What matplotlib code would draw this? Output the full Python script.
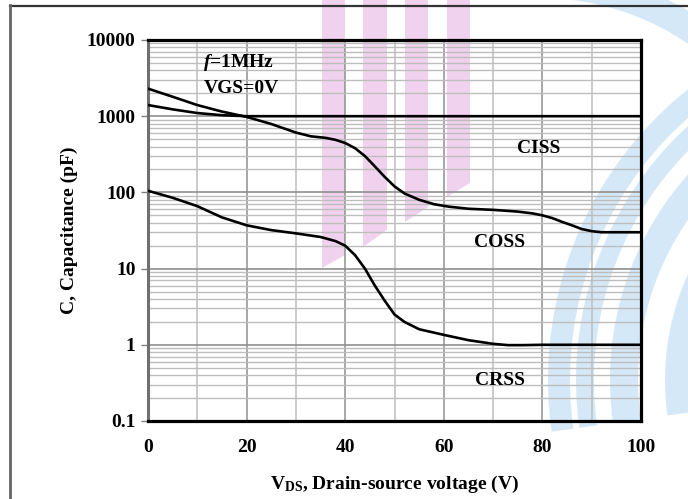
import matplotlib
matplotlib.use("Agg")
import matplotlib.pyplot as plt
from matplotlib.patches import Wedge, Polygon
from matplotlib.lines import Line2D
from matplotlib.transforms import Affine2D
from matplotlib.ticker import NullFormatter, FixedLocator

plt.rcParams['font.family'] = ['Liberation Serif', 'DejaVu Serif']
plt.rcParams['mathtext.fontset'] = 'custom'
plt.rcParams['mathtext.rm'] = 'Liberation Serif:bold'
plt.rcParams['mathtext.it'] = 'Liberation Serif:bold:italic'
plt.rcParams['mathtext.bf'] = 'Liberation Serif:bold'

# ---- data ----
ciss_v = [0, 5, 10, 15, 20, 30, 40, 50, 60, 70, 80, 90, 100]
ciss_c = [1400, 1230, 1100, 1030, 1000, 1000, 1000, 1000, 1000, 1000, 1000, 1000, 1000]

coss_v = [0, 5, 10, 15, 20, 25, 30, 33, 36, 38, 40, 42, 44, 46, 48, 50, 52, 55, 58, 61,
          65, 70, 75, 78, 80, 82, 84, 86, 88, 90, 92, 95, 100]
coss_c = [2300, 1800, 1400, 1150, 980, 790, 610, 545, 520, 490, 445, 380, 300, 220, 160,
          120, 97, 80, 70, 65, 61, 59, 56, 53, 50, 46, 41, 37, 33, 31, 30, 30, 30]

crss_v = [0, 5, 10, 15, 20, 25, 30, 35, 38, 40, 42, 44, 46, 48, 50, 52, 55, 60, 65, 70,
          73, 76, 80, 90, 100]
crss_c = [105, 85, 66, 47, 37, 32, 29, 26, 23, 20, 15, 10, 6, 3.8, 2.5, 2.0, 1.6, 1.35,
          1.15, 1.03, 0.99, 0.99, 1.0, 1.0, 1.0]

y_ticks = [0.1, 1, 10, 100, 1000, 10000]
y_tick_labels = ["0.1", "1", "10", "100", "1000", "10000"]
x_ticks = [0, 20, 40, 60, 80, 100]
x_tick_labels = ["0", "20", "40", "60", "80", "100"]

W, H = 688, 499
fig = plt.figure(figsize=(W / 100, H / 100), dpi=100)
fig.patch.set_facecolor('white')

# pixel transform (origin top-left)
pxT = Affine2D().scale(1, -1).translate(0, H)

# ---- watermark decoration ----
blue = '#d5e8f8'
for r_out, r_in in [(372, 350), (344, 326), (310, 282), (255, 232)]:
    w = Wedge((920, 380), r_out, 172, 275, width=r_out - r_in, transform=pxT,
              facecolor=blue, edgecolor='none', zorder=0)
    fig.add_artist(w)
w = Wedge((540, 260), 290, 270, 320, width=28, transform=pxT,
          facecolor=blue, edgecolor='none', zorder=0)
fig.add_artist(w)

pink = '#f1d2ee'
for x0, x1, yl, yr in [(322, 345, 268, 255), (363, 387, 247, 230),
                       (405, 428, 222, 207), (447, 470, 197, 183)]:
    p = Polygon([(x0, 0), (x1, 0), (x1, yr), (x0, yl)], closed=True, transform=pxT,
                facecolor=pink, edgecolor='none', zorder=0)
    fig.add_artist(p)

# figure frame lines
fig.add_artist(Line2D([10, W], [5.5, 5.5], transform=pxT, color='#333333', lw=1.6, zorder=1))
fig.add_artist(Line2D([10, 10], [5, H], transform=pxT, color='#666666', lw=2.0, zorder=1))

# ---- axes ----
ax = fig.add_axes([148 / W, 1 - 421 / H, (641 - 148) / W, (421 - 40) / H])
ax.patch.set_alpha(0)
ax.set_yscale('log')
ax.set_xlim(0, 100)
ax.set_ylim(0.1, 10000)

# grid
for xv in range(10, 100, 10):
    ax.axvline(xv, color='#8f8f8f' if xv % 20 == 0 else '#bdbdbd', lw=1.1, zorder=1)
for d in [0.1, 1, 10, 100, 1000]:
    for m in range(2, 10):
        ax.axhline(d * m, color='#bdbdbd', lw=1.0, zorder=1)
    if d > 0.1:
        ax.axhline(d, color='#8f8f8f', lw=1.2, zorder=1)

ax.plot(ciss_v, ciss_c, color='black', lw=1.9, zorder=3)
ax.plot(coss_v, coss_c, color='black', lw=1.9, zorder=3)
ax.plot(crss_v, crss_c, color='black', lw=1.9, zorder=3)

ax.yaxis.set_major_locator(FixedLocator(y_ticks))
ax.set_yticklabels(y_tick_labels)
ax.yaxis.set_minor_locator(FixedLocator([]))
ax.yaxis.set_minor_formatter(NullFormatter())
ax.set_xticks(x_ticks)
ax.set_xticklabels(x_tick_labels)

ax.tick_params(axis='y', which='major', length=5, width=1, color='#808080', pad=4,
               labelsize=14)
ax.tick_params(axis='x', which='major', length=0, pad=13, labelsize=14)
for lab in ax.get_xticklabels() + ax.get_yticklabels():
    lab.set_fontweight('bold')

for s in ['top', 'right', 'bottom']:
    ax.spines[s].set_color('black')
    ax.spines[s].set_linewidth(2.3)
    ax.spines[s].set_zorder(4)
ax.spines['left'].set_color('#707070')
ax.spines['left'].set_linewidth(2.2)

ax.set_xlabel(r'V$_{\mathrm{DS}}$, Drain-source voltage (V)', fontsize=14,
              fontweight='bold', labelpad=13)
ax.set_ylabel('C, Capacitance (pF)', fontsize=14, fontweight='bold', labelpad=6)

tk = dict(fontsize=14, fontweight='bold', ha='center', va='center', zorder=5)
ax.text(18.4, 5000, r'$\mathit{f}$=1MHz', **tk)
ax.text(19.0, 2344, 'VGS=0V', **tk)
ax.text(79.2, 379, 'CISS', **tk)
ax.text(71.3, 22.1, 'COSS', **tk)
ax.text(71.3, 0.345, 'CRSS', **tk)

fig.savefig('out.png', dpi=100)
